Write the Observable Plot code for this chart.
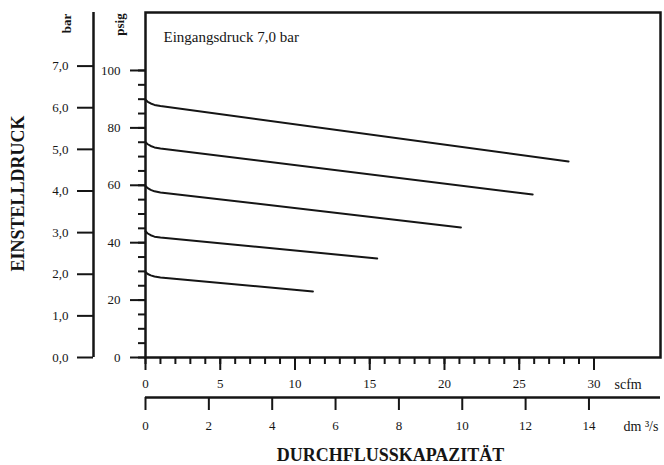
<!DOCTYPE html>
<html><head><meta charset="utf-8">
<script src="https://cdn.jsdelivr.net/npm/d3@7"></script>
<script src="https://cdn.jsdelivr.net/npm/@observablehq/plot@0.6"></script>
<style>
body{margin:0;background:#fff;}
#chart svg{display:block;}
#chart svg text{font-family:"Liberation Serif","Times New Roman",serif !important;}
#chart svg g[aria-label$="tick label"], #chart svg g[aria-label$="tick label"] text{font-size:13px !important;}
</style>
</head><body><div id="chart"></div>
<script>
// Flow (scfm) and set pressure (psig)
const curve1 = [[0,89.8],[0.15,89.1],[0.35,88.5],[0.6,88.0],[1.0,87.6],[28.3,68.3]];
const curve2 = [[0,75.0],[0.15,74.3],[0.35,73.7],[0.6,73.2],[1.0,72.8],[25.9,56.8]];
const curve3 = [[0,59.8],[0.15,59.0],[0.35,58.4],[0.6,57.9],[1.0,57.5],[21.1,45.3]];
const curve4 = [[0,44.0],[0.15,43.2],[0.35,42.6],[0.6,42.1],[1.0,41.8],[15.5,34.5]];
const curve5 = [[0,29.8],[0.15,29.1],[0.35,28.6],[0.6,28.2],[1.0,27.9],[11.2,23.0]];
const curves = [curve1, curve2, curve3, curve4, curve5];

const psigTicks = [0,20,40,60,80,100];
const psigMinor = d3.range(0,101,5);
const barTicks = [0,1,2,3,4,5,6,7];
const scfmTicks = [0,5,10,15,20,25,30];
const scfmMinor = d3.range(0,31,1);
const dmTicks = [0,2,4,6,8,10,12,14];
const psiPerBar = 14.5038;
const dmPerScfm = 0.4719474;

const data = curves.flatMap((c, i) => c.map(([scfm, psig]) => ({curve: i, scfm, psig})));

const serif = "Liberation Serif, Times New Roman, serif";
const ink = "#151515";
const xMax = 34.45, yMax = 120.2;

const chart = Plot.plot({
  width: 664, height: 465,
  marginLeft: 145, marginRight: 4, marginTop: 12, marginBottom: 108,
  x: {domain: [0, xMax], label: null},
  y: {domain: [0, yMax], label: null},
  style: {fontFamily: serif, fontSize: "13px", color: ink, background: "#fff"},
  marks: [
    Plot.frame({strokeWidth: 2.5, stroke: ink}),
    // psig axis
    Plot.axisY(psigTicks, {tickSize: 15, tickPadding: 10, strokeWidth: 2, label: null}),
    Plot.axisY(psigMinor, {tickSize: 7, strokeWidth: 2, tickFormat: () => "", label: null}),
    // bar axis
    Plot.ruleX([0], {y1: 0, y2: yMax, dx: -52, strokeWidth: 2.5, stroke: ink}),
    Plot.axisY(barTicks.map(b => b * psiPerBar), {dx: -52, tickSize: 16, tickPadding: 9, strokeWidth: 2, label: null,
      tickFormat: d => (d / psiPerBar).toFixed(1).replace(".", ",")}),
    // scfm axis
    Plot.axisX(scfmTicks, {tickSize: 13, tickPadding: 8, strokeWidth: 2, label: null}),
    Plot.axisX(scfmMinor, {tickSize: 7, strokeWidth: 2, tickFormat: () => "", label: null}),
    // dm3/s axis
    Plot.ruleY([0], {x1: 0, x2: xMax, dy: 40, strokeWidth: 2.5, stroke: ink}),
    Plot.axisX(dmTicks.map(d => d / dmPerScfm), {dy: 40, tickSize: 13, tickPadding: 10, strokeWidth: 2, label: null,
      tickFormat: d => Math.round(d * dmPerScfm)}),
    // curves
    Plot.line(data, {x: "scfm", y: "psig", z: "curve", curve: "linear", stroke: ink, strokeWidth: 2, strokeLinejoin: "round"}),
    // texts
    Plot.text(["Eingangsdruck 7,0 bar"], {frameAnchor: "top-left", dx: 18, dy: 25, textAnchor: "start", lineAnchor: "middle", fontSize: 15}),
    Plot.text(["bar"], {frameAnchor: "top-left", dx: -79, dy: 11, rotate: -90, textAnchor: "middle", lineAnchor: "middle", fontWeight: "bold", fontSize: 13}),
    Plot.text(["psig"], {frameAnchor: "top-left", dx: -26, dy: 12, rotate: -90, textAnchor: "middle", lineAnchor: "middle", fontWeight: "bold", fontSize: 13}),
    Plot.text(["scfm"], {frameAnchor: "bottom-left", dx: 469, dy: 27, textAnchor: "start", lineAnchor: "middle", fontSize: 14}),
    Plot.text(["dm ³/s"], {frameAnchor: "bottom-left", dx: 478, dy: 69, textAnchor: "start", lineAnchor: "middle", fontSize: 14}),
    Plot.text(["EINSTELLDRUCK"], {frameAnchor: "left", dx: -127, dy: 8.5, rotate: -90, textAnchor: "middle", lineAnchor: "middle", fontWeight: "bold", fontSize: 18, letterSpacing: "1px"}),
    Plot.text(["DURCHFLUSSKAPAZITÄT"], {frameAnchor: "bottom-left", dx: 245, dy: 98, textAnchor: "middle", lineAnchor: "middle", fontWeight: "bold", fontSize: 18, letterSpacing: "0.5px"})
  ]
});
document.getElementById("chart").append(chart);
</script>
</body></html>
